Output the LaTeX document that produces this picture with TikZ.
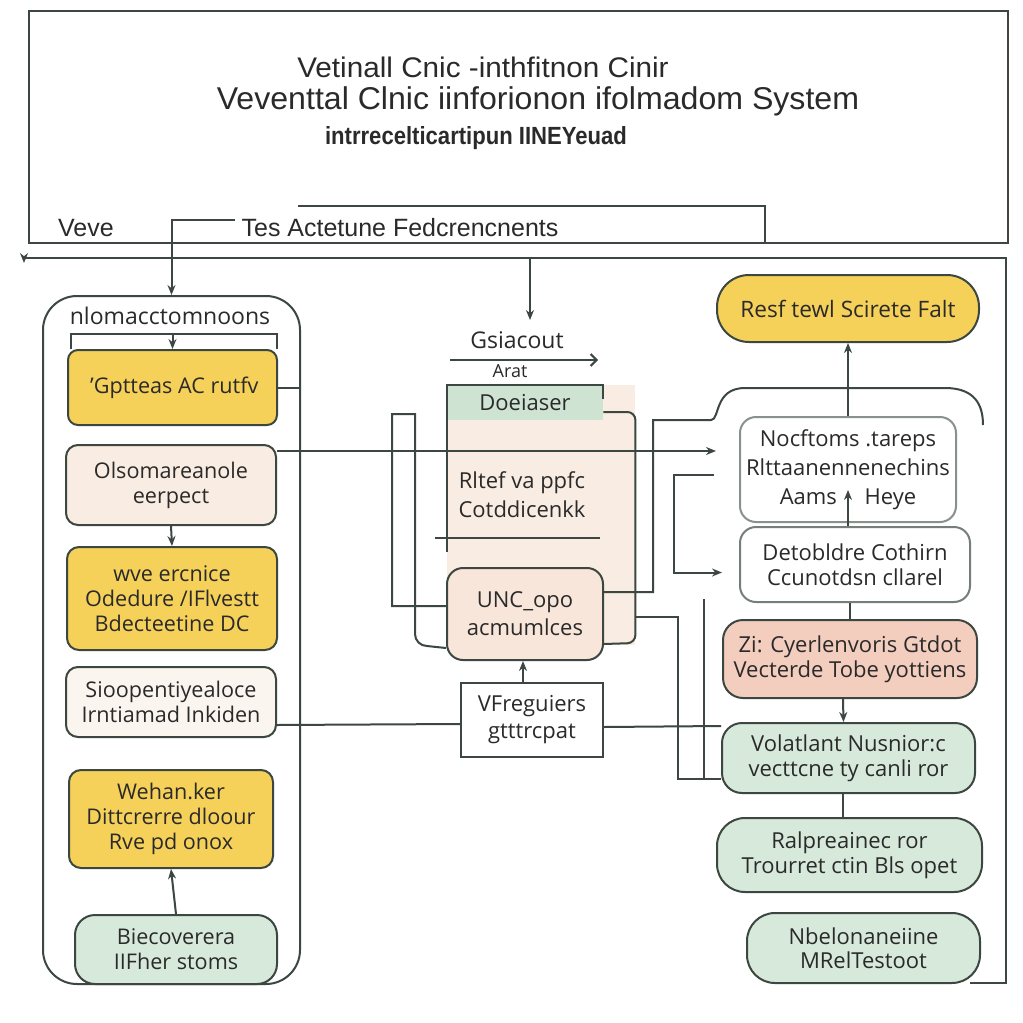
\documentclass[tikz,border=0pt]{standalone}
\usepackage{fontspec}
\setmainfont{Open Sans}
\newfontfamily\titlefont{Liberation Sans}
\usetikzlibrary{calc,arrows.meta}
\definecolor{linec}{HTML}{3B4740}
\definecolor{txt}{HTML}{2A2A2A}
\definecolor{yel}{HTML}{F6D15A}
\definecolor{beige}{HTML}{F9ECE2}
\definecolor{lbeige}{HTML}{FBF5EF}
\definecolor{pinkc}{HTML}{F3CDBD}
\definecolor{greenc}{HTML}{D7E9DB}
\definecolor{hgreen}{HTML}{CFE3D3}
\tikzset{
  ln/.style={draw=linec, line width=1pt},
  arr/.style={ln, -{Stealth[length=5pt,width=4pt]}},
  box/.style={ln, rounded corners=6pt, align=center, inner sep=1pt, text=txt,
    font=\fontsize{10.8}{12.5}\selectfont},
  ybox/.style={box, fill=yel},
  bbox/.style={box, fill=beige},
  lbox/.style={box, fill=lbeige},
  pbox/.style={box, fill=pinkc, rounded corners=10pt},
  gbox/.style={box, fill=greenc, rounded corners=10pt},
  wbox/.style={box, fill=white},
  lab/.style={text=txt, inner sep=0pt},
}
\begin{document}
\begin{tikzpicture}[x=0.5pt,y=-0.5pt]
\useasboundingbox (0,0) rectangle (1023,1023);
\fill[white] (0,0) rectangle (1023,1023);

% top frame
\draw[ln] (29,11) rectangle (1008,243);
\node[lab, font=\titlefont\fontsize{13.5}{15}\selectfont] (t1) at (483,67) {\scalebox{1.1}[1.05]{Vetinall Cnic -inthfitnon Cinir}};
\node[lab, font=\titlefont\fontsize{15}{17}\selectfont] (t2) at (538,101) {\scalebox{1.07}[1.05]{Veventtal Clnic iinforionon ifolmadom System}};
\node[lab, font=\titlefont\bfseries\fontsize{11.5}{13}\selectfont] (t3) at (476,138) {\scalebox{0.96}[1.08]{intrrecelticartipun IINEYeuad}};
\node[lab, font=\titlefont\fontsize{12.5}{14}\selectfont] (veve) at (86,228) {Veve};
\node[lab, font=\titlefont\fontsize{12.5}{14}\selectfont] (tes) at (400,228) {\scalebox{1.0}[1]{Tes Actetune Fedcrencnents}};
\coordinate (hookA) at (298,206);
\coordinate (hookB) at (765,243);
\draw[ln] (hookA) -| (hookB);

% lower frame
\coordinate (frR) at (1006,258);
\coordinate (frL) at (24,258);
\coordinate (frB) at (970,983);
\draw[ln] (frL) -- (frR) |- (frB);
\draw[arr] (frL) -- ++(0,5);
\coordinate (dropA) at (530,258);
\coordinate (dropB) at (530,320);
\draw[arr] (dropA) -- (dropB);

% left panel
\node[ln, rounded corners=17pt, minimum width=128.5pt, minimum height=344pt] (panel) at (171.5,640) {};
\node[lab, font=\fontsize{11.5}{13}\selectfont] (ptitle) at (170,316) {nlomacctomnoons};
\coordinate (brk) at (235,220);
\draw[arr] (brk) -| (panel.north);

\node[ybox, minimum width=104.5pt, minimum height=37.5pt, rounded corners=5pt] (y1) at (172.5,387.5) {\,'Gptteas AC rutfv};
\node[bbox, minimum width=105pt, minimum height=40pt] (b2) at (171,485) {Olsomareanole\\eerpect};
\node[ybox, minimum width=105pt, minimum height=51.5pt] (y3) at (172,598.5) {wve ercnice\\Odedure /IFlvestt\\Bdecteetine DC};
\node[lbox, minimum width=105pt, minimum height=35pt] (b4) at (171,702) {Sioopentiyealoce\\Irntiamad Inkiden};
\node[ybox, minimum width=102pt, minimum height=49pt] (y5) at (171,819) {Wehan.ker\\Dittcrerre dloour\\Rve pd onox};
\node[gbox, minimum width=101pt, minimum height=34.5pt] (g6) at (176,949.5) {Biecoverera\\IIFher stoms};

\draw[ln] ($(y1.north west)+(4,0)$) -- ++(0,-15) -| ($(y1.north east)+(-1,0)$);
\draw[arr] ($(y1.north)+(0,-15)$) -- (y1.north);
\draw[ln] (y1.east) -- (y1.east -| panel.east);
\draw[arr] (b2.south) -- (y3.north);
\draw[arr] (g6.north) -- (y5.south);

% middle
\node[lab, font=\fontsize{11.5}{13}\selectfont] (gs) at (517,340) {Gsiacout};
\coordinate (ulA) at (450,360);
\coordinate (ulB) at (598,360);
\draw[ln, -{Straight Barb[length=3pt]}] (ulA) -- (ulB);
\node[lab, font=\fontsize{9}{11}\selectfont] (arat) at (510,371) {Arat};
\node[fill=beige, minimum width=94pt, minimum height=130pt, inner sep=0pt] (Db) at (541,515) {};
\node[fill=hgreen, minimum width=78pt, minimum height=17.5pt, inner sep=0pt, text=txt, font=\fontsize{11}{12}\selectfont] (D) at (525,402.5) {Doeiaser};
\draw[ln] ($(D.north west)+(0,167)$) -- (D.north west) -- (D.north east) -- ++(0,14);
\node[lab, align=center, font=\fontsize{11}{14.5}\selectfont] (rt) at (522,495) {Rltef va ppfc\\Cotddicenkk};
\draw[ln] ($(Db.west)+(-12,23)$) -- ++(165,0);
\node[bbox, fill=beige!80!pinkc, minimum width=78pt, minimum height=46pt, rounded corners=8pt, font=\fontsize{11}{14}\selectfont] (U) at (525,614) {UNC\_opo\\acmumlces};
\node[wbox, rounded corners=0pt, minimum width=71pt, minimum height=37pt, font=\fontsize{11}{13.5}\selectfont] (Vf) at (532,720) {VFreguiers\\gtttrcpat};
\draw[arr] ($(Vf.north)+(-9,0)$) -- ($(U.south)+(-2,0)$);
\draw[ln] ($(U.north west)+(0,39)$) -- ++(-54,0) -- ++(0,-192) -- ++(23,0) -- ++(0,220)
  arc[start angle=180, end angle=270, x radius=12, y radius=-12] -- ($(U.south west)+(0,-13)$);
\draw[ln, rounded corners=4pt] ($(D.east)+(0,9.5)$) -- ++(32,0) -- ++(0,231) -- ($(U.south east)+(0,-17)$);
\draw[ln] ($(b4.south east)+(0,-13)$) -- ($(Vf.west)+(0,4)$);

% right column
\node[ybox, rounded corners=16pt, minimum width=131pt, minimum height=33.5pt, font=\fontsize{11.3}{12}\selectfont] (P) at (848,308.5) {Resf tewl Scirete Falt};
\node[wbox, draw=linec!60, rounded corners=8pt, minimum width=108pt, minimum height=52.5pt, font=\fontsize{11}{14.5}\selectfont] (n1) at (848,469.5) {Nocftoms .tareps\\Rlttaanennenechins\\Aams \quad Heye};
\node[wbox, draw=linec!70, rounded corners=8pt, minimum width=115pt, minimum height=37.5pt, font=\fontsize{11}{12.5}\selectfont] (n2) at (855,564.5) {Detobldre Cothirn\\Ccunotdsn cllarel};
\node[pbox, minimum width=127pt, minimum height=39pt, font=\fontsize{11}{12.5}\selectfont] (Pk) at (850,659) {Zi: Cyerlenvoris Gtdot\\Vecterde Tobe yottiens};
\node[gbox, minimum width=126.5pt, minimum height=35pt, font=\fontsize{11}{12.5}\selectfont] (Vo) at (848.5,758) {Volatlant Nusnior:c\\vecttcne ty canli ror};
\node[gbox, minimum width=132.5pt, minimum height=37pt, rounded corners=14pt, font=\fontsize{11}{12.5}\selectfont] (Ra) at (849.5,855) {Ralpreainec ror\\Trourret ctin Bls opet};
\node[gbox, minimum width=116.5pt, minimum height=35pt, rounded corners=14pt, font=\fontsize{11}{12}\selectfont] (Nb) at (863.5,948) {Nbelonaneiine\\MRelTestoot};

\draw[arr] (n1.north) -- (P.south);
\draw[arr] (n1.south |- n2.north) -- ($(n1.south)+(0,-33)$);
\draw[ln] (n2.south -| Pk.north) -- (Pk.north);
\draw[arr] ($(Pk.south)+(-7,0)$) -- ($(Vo.north)+(-5,0)$);
\draw[ln] ($(Vo.south)+(-6,0)$) -- ($(Ra.north)+(-7,0)$);

% bracket arc over n1
\draw[ln] ($(U.east)+(0,-22)$) -- ++(49,0) -- ++(0,-172) -- ++(58,0)
  .. controls (720,420) and (714,388) .. (745,388) -- (945,388)
  .. controls (975,388) and (983,405) .. (983,425);

% long connector b2 -> n1
\draw[arr] ($(b2.north east)+(0,7)$) -- ($(n1.north west)+(-23,35)$);
% n1 -> n2
\draw[arr] ($(n1.west)+(-25,5)$) -- ++(-40,0) |- ($(n2.west)+(-17,8)$);
% body -> Vo
\draw[ln] ($(Db.east)+(0,102)$) -- ++(43,0) |- ($(Vo.south west)+(0,-15)$);
\draw[ln] ($(n2.south west)+(-35,-4)$) -- ($(Vo.south west)+(-17,-15)$);
% Vf -> Vo
\draw[ln] ($(Vf.east)+(0,7)$) -- ($(Vo.north west)+(0,4)$);
\end{tikzpicture}
\end{document}
